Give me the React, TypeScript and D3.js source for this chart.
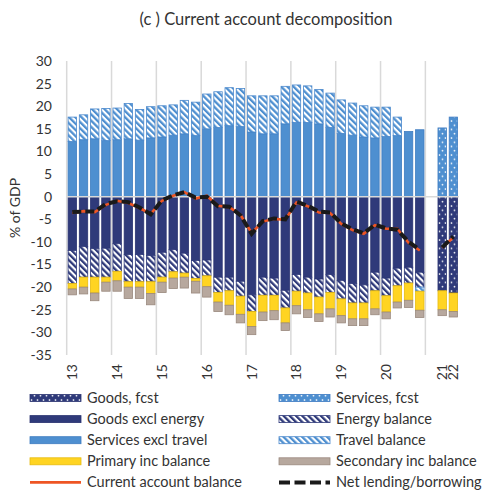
import React, { useEffect, useRef } from 'react';
import * as d3 from 'd3';

// categories: 32 quarters 2013Q1..2020Q4, a blank slot, then 2021 and 2022 forecasts
const categories = d3.range(35).map(i => `c${i}`);
const xLabels = ['13', '', '', '', '14', '', '', '', '15', '', '', '', '16', '', '', '', '17', '', '', '', '18', '', '', '', '19', '', '', '', '20', '', '', '', '', '21', '22'];
const yTicks = [30, 25, 20, 15, 10, 5, 0, -5, -10, -15, -20, -25, -30, -35];

const goodsFcst = [0, 0, 0, 0, 0, 0, 0, 0, 0, 0, 0, 0, 0, 0, 0, 0, 0, 0, 0, 0, 0, 0, 0, 0, 0, 0, 0, 0, 0, 0, 0, 0, 0, -20.8, -21.3];
const servicesFcst = [0, 0, 0, 0, 0, 0, 0, 0, 0, 0, 0, 0, 0, 0, 0, 0, 0, 0, 0, 0, 0, 0, 0, 0, 0, 0, 0, 0, 0, 0, 0, 0, 0, 15.2, 17.6];
const goodsExEnergy = [-11.9, -11.0, -11.5, -11.4, -10.4, -12.8, -12.8, -13.0, -12.3, -11.7, -12.5, -14.1, -14.0, -17.8, -17.8, -18.7, -21.7, -17.8, -18.0, -20.7, -17.2, -17.8, -18.2, -17.2, -18.5, -19.2, -19.5, -16.7, -18.0, -15.8, -15.6, -16.7, 0, 0, 0];
const energy = [-7.3, -6.8, -6.3, -6.4, -6.1, -6.0, -6.0, -5.8, -5.5, -4.9, -4.4, -4.0, -3.5, -3.4, -3.0, -3.3, -3.7, -4.0, -3.8, -3.9, -3.7, -3.5, -4.0, -4.0, -4.1, -4.3, -4.0, -4.1, -3.9, -3.9, -3.5, -3.3, 0, 0, 0];
const servicesExTravel = [12.2, 12.6, 12.8, 12.4, 12.6, 12.8, 12.5, 13.0, 13.2, 13.6, 13.9, 13.5, 15.0, 15.3, 15.7, 15.5, 14.3, 13.9, 13.9, 16.1, 16.4, 16.4, 16.1, 15.3, 14.0, 13.6, 13.2, 13.0, 13.3, 13.5, 14.4, 14.8, 0, 0, 0];
const travel = [5.4, 5.5, 6.6, 7.1, 7.0, 7.8, 6.8, 6.9, 6.9, 6.7, 7.4, 7.4, 7.7, 7.9, 8.4, 8.4, 8.0, 8.4, 8.4, 8.3, 8.3, 8.1, 7.6, 7.6, 7.4, 7.1, 6.9, 6.8, 6.5, 4.1, 0, -0.9, 0, 0, 0];
const primaryInc = [-1.2, -2.2, -3.5, -1.1, -2.1, -1.2, -1.2, -2.6, -1.1, -1.4, -0.9, -0.6, -2.4, -2.1, -3.2, -4.0, -3.3, -3.7, -3.4, -3.3, -3.2, -3.7, -3.7, -3.6, -3.7, -3.5, -3.5, -4.0, -3.6, -3.6, -3.8, -4.2, 0, -4.2, -4.1];
const secondaryInc = [-1.3, -1.5, -1.7, -2.0, -2.3, -2.5, -2.5, -2.5, -2.3, -2.3, -2.4, -2.6, -2.3, -2.1, -2.1, -1.9, -1.8, -1.9, -2.0, -1.7, -1.8, -1.7, -1.7, -1.8, -1.6, -1.5, -1.5, -1.3, -1.5, -1.3, -1.6, -1.6, 0, -1.3, -1.2];
const currentAccount = [-3.6, -3.2, -3.4, -1.8, -0.9, -1.4, -2.5, -3.8, -0.9, 0.2, 1.0, -0.4, 0.2, -2.0, -2.3, -4.0, -8.0, -5.5, -4.9, -5.1, -1.3, -2.1, -3.5, -3.6, -6.0, -7.4, -8.2, -6.3, -7.1, -7.1, -10.2, -11.9, null, -11.3, -9.0];
const netLending = [-3.4, -3.3, -3.3, -1.6, -1.0, -1.2, -2.4, -3.9, -0.8, 0.3, 1.0, -0.2, 0.0, -2.1, -2.2, -4.1, -8.2, -5.4, -4.8, -5.0, -1.1, -2.0, -3.3, -3.5, -5.9, -7.2, -8.1, -6.2, -7.0, -7.3, -10.0, -11.7, null, -11.2, -8.8];

const seriesDefs = [
  { key: 'goodsFcst', label: 'Goods, fcst', values: goodsFcst, fill: 'url(#dotNavy)', stroke: '#2c3572' },
  { key: 'servicesFcst', label: 'Services, fcst', values: servicesFcst, fill: 'url(#dotBlue)', stroke: '#3f7cc2' },
  { key: 'goodsExEnergy', label: 'Goods excl energy', values: goodsExEnergy, fill: '#2f3a7a', stroke: '#2a3370' },
  { key: 'energy', label: 'Energy balance', values: energy, fill: 'url(#hatchNavy)', stroke: '#2f3a7a' },
  { key: 'servicesExTravel', label: 'Services excl travel', values: servicesExTravel, fill: '#4e8fd0', stroke: '#3e7cc0' },
  { key: 'travel', label: 'Travel balance', values: travel, fill: 'url(#hatchBlue)', stroke: '#4a88cc' },
  { key: 'primaryInc', label: 'Primary inc balance', values: primaryInc, fill: '#ffd422', stroke: '#e6bb10' },
  { key: 'secondaryInc', label: 'Secondary inc balance', values: secondaryInc, fill: '#b7a89e', stroke: '#9a897e' },
];

const App = () => {
  const svgRef = useRef<SVGSVGElement>(null);

  useEffect(() => {
    const width = 485;
    const height = 493;
    const margin = { top: 61, right: 26, bottom: 138, left: 66.7 };
    const font = 'Lato, "Open Sans", sans-serif';
    const textColor = '#333';

    const svg = d3.select(svgRef.current);
    svg.selectAll('*').remove();

    // patterns
    const defs = svg.append('defs');
    const hatch = (id: string, color: string) => {
      const p = defs.append('pattern')
        .attr('id', id)
        .attr('patternUnits', 'userSpaceOnUse')
        .attr('width', 4.4)
        .attr('height', 4.4)
        .attr('patternTransform', 'rotate(-45)');
      p.append('rect').attr('width', 4.4).attr('height', 4.4).attr('fill', '#fff');
      p.append('rect').attr('width', 2.3).attr('height', 4.4).attr('fill', color);
    };
    hatch('hatchNavy', '#2f3a7a');
    hatch('hatchBlue', '#4e8fd0');
    const dots = (id: string, color: string) => {
      const p = defs.append('pattern')
        .attr('id', id)
        .attr('patternUnits', 'userSpaceOnUse')
        .attr('width', 6)
        .attr('height', 8.5);
      p.append('rect').attr('width', 6).attr('height', 8.5).attr('fill', color);
      p.append('circle').attr('cx', 1.5).attr('cy', 2).attr('r', 0.9).attr('fill', '#fff');
      p.append('circle').attr('cx', 4.5).attr('cy', 6.25).attr('r', 0.9).attr('fill', '#fff');
    };
    dots('dotNavy', '#2f3a7a');
    dots('dotBlue', '#4e8fd0');

    const x = d3.scaleBand()
      .domain(categories)
      .range([margin.left, width - margin.right])
      .paddingInner(0.25)
      .paddingOuter(0.125);

    const y = d3.scaleLinear()
      .domain([-35, 30])
      .range([height - margin.bottom, margin.top]);

    const step = x.step();
    const slotStart = (i: number) => margin.left + i * step;

    // vertical gridlines at year boundaries
    svg.append('g')
      .selectAll('line')
      .data([0, 4, 8, 12, 16, 20, 24, 28, 32])
      .join('line')
      .attr('x1', d => slotStart(d))
      .attr('x2', d => slotStart(d))
      .attr('y1', y(30))
      .attr('y2', y(-35))
      .attr('stroke', '#d9d9d9')
      .attr('stroke-width', 1.5);

    // stacked bars
    const table = categories.map((c, i) => {
      const row: any = { cat: c };
      seriesDefs.forEach(s => { row[s.key] = s.values[i]; });
      return row;
    });
    const stacked = d3.stack()
      .keys(seriesDefs.map(s => s.key))
      .offset(d3.stackOffsetDiverging)(table);

    stacked.forEach((layer, li) => {
      const def = seriesDefs[li];
      svg.append('g')
        .selectAll('rect')
        .data(layer.filter(d => d[1] - d[0] !== 0))
        .join('rect')
        .attr('x', d => x(d.data.cat)!)
        .attr('width', x.bandwidth())
        .attr('y', d => y(Math.max(d[0], d[1])))
        .attr('height', d => Math.abs(y(d[0]) - y(d[1])))
        .attr('fill', def.fill)
        .attr('stroke', def.stroke)
        .attr('stroke-width', 0.8);
    });

    // zero line
    svg.append('line')
      .attr('x1', margin.left)
      .attr('x2', width - margin.right)
      .attr('y1', y(0))
      .attr('y2', y(0))
      .attr('stroke', '#d9d9d9')
      .attr('stroke-width', 1.5);

    // lines
    const line = d3.line<number | null>()
      .defined(d => d !== null)
      .x((d, i) => x(categories[i])! + x.bandwidth() / 2)
      .y(d => y(d as number));

    svg.append('path')
      .datum(currentAccount)
      .attr('d', line)
      .attr('fill', 'none')
      .attr('stroke', '#ee5524')
      .attr('stroke-width', 2.6);

    svg.append('path')
      .datum(netLending)
      .attr('d', line)
      .attr('fill', 'none')
      .attr('stroke', '#1a1a1a')
      .attr('stroke-width', 4)
      .attr('stroke-dasharray', '9,4');

    // y ticks
    svg.append('g')
      .selectAll('text')
      .data(yTicks)
      .join('text')
      .attr('x', 52)
      .attr('y', d => y(d))
      .attr('dy', '0.35em')
      .attr('text-anchor', 'end')
      .attr('font-family', font)
      .attr('font-size', 14)
      .attr('fill', textColor)
      .text(d => d);

    // y title
    svg.append('text')
      .attr('transform', `translate(20,${(y(30) + y(-35)) / 2}) rotate(-90)`)
      .attr('text-anchor', 'middle')
      .attr('font-family', font)
      .attr('font-size', 14)
      .attr('fill', textColor)
      .text('% of GDP');

    // x labels
    svg.append('g')
      .selectAll('text')
      .data(categories.map((c, i) => ({ c, label: xLabels[i] })).filter(d => d.label))
      .join('text')
      .attr('transform', d => `translate(${x(d.c)! + x.bandwidth() / 2},${y(-35) + 9}) rotate(-90)`)
      .attr('text-anchor', 'end')
      .attr('dy', '0.35em')
      .attr('font-family', font)
      .attr('font-size', 14)
      .attr('fill', textColor)
      .text(d => d.label);

    // title
    svg.append('text')
      .attr('x', 266)
      .attr('y', 25)
      .attr('text-anchor', 'middle')
      .attr('font-family', font)
      .attr('font-size', 16.5)
      .attr('fill', textColor)
      .text('(c ) Current account decomposition');

    // legend
    const legendItems = [
      ...seriesDefs.map(s => ({ label: s.label, type: 'bar', fill: s.fill, stroke: s.stroke })),
      { label: 'Current account balance', type: 'line', fill: '#ee5524', stroke: '#ee5524' },
      { label: 'Net lending/borrowing', type: 'dash', fill: '#1a1a1a', stroke: '#1a1a1a' },
    ];
    const legend = svg.append('g')
      .selectAll('g')
      .data(legendItems)
      .join('g')
      .attr('transform', (d, i) => `translate(${i % 2 === 0 ? 30 : 279},${398 + Math.floor(i / 2) * 21.1})`);

    legend.filter(d => d.type === 'bar')
      .append('rect')
      .attr('x', 0)
      .attr('y', -3.5)
      .attr('width', 51)
      .attr('height', 7)
      .attr('fill', d => d.fill)
      .attr('stroke', d => d.stroke)
      .attr('stroke-width', 0.8);

    legend.filter(d => d.type === 'line')
      .append('line')
      .attr('x1', 0).attr('x2', 51)
      .attr('stroke', d => d.stroke)
      .attr('stroke-width', 2.6);

    legend.filter(d => d.type === 'dash')
      .append('line')
      .attr('x1', 0).attr('x2', 51)
      .attr('stroke', d => d.stroke)
      .attr('stroke-width', 4)
      .attr('stroke-dasharray', '11,4.5');

    legend.append('text')
      .attr('x', 57)
      .attr('dy', '0.35em')
      .attr('font-family', font)
      .attr('font-size', 14.5)
      .attr('fill', textColor)
      .text(d => d.label);
  }, []);

  return (
    <svg
      ref={svgRef}
      width={485}
      height={493}
      style={{ position: 'absolute', left: 0, top: 0, background: '#fff' }}
    />
  );
};

export default App;
